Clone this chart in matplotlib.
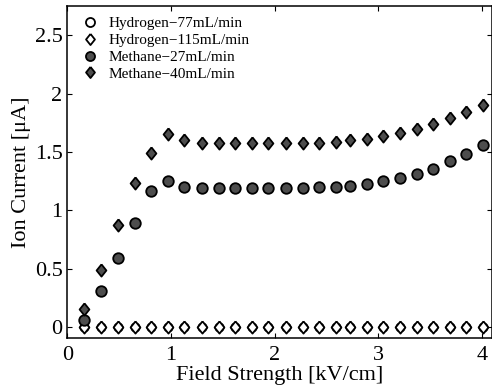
import matplotlib
matplotlib.use('Agg')
import matplotlib.pyplot as plt
import numpy as np

# field strength [kV/cm]
field = [0.16, 0.32, 0.49, 0.65, 0.81, 0.97, 1.13, 1.30, 1.46, 1.62, 1.78, 1.94,
         2.11, 2.27, 2.43, 2.59, 2.73, 2.89, 3.05, 3.21, 3.37, 3.53, 3.69, 3.85, 4.01]

# ion current [uA]
h2_77 = [0.0] * 25
h2_115 = [0.0] * 25
ch4_27 = [0.057, 0.308, 0.591, 0.889, 1.165, 1.254, 1.200, 1.186, 1.186, 1.186,
          1.186, 1.186, 1.186, 1.191, 1.195, 1.200, 1.208, 1.223, 1.249, 1.277,
          1.314, 1.357, 1.420, 1.486, 1.557]
ch4_40 = [0.155, 0.486, 0.871, 1.229, 1.494, 1.657, 1.600, 1.577, 1.572, 1.572,
          1.572, 1.572, 1.572, 1.572, 1.577, 1.585, 1.600, 1.614, 1.637, 1.666,
          1.700, 1.743, 1.791, 1.842, 1.900]

labels = ['Hydrogen\u221277mL/min', 'Hydrogen\u2212115mL/min',
          'Methane\u221227mL/min', 'Methane\u221240mL/min']

plt.rcParams['font.family'] = ['Liberation Serif', 'DejaVu Serif']

diamond = [(0, 1), (0.8, 0), (0, -1), (-0.8, 0), (0, 1)]

fig = plt.figure(figsize=(4.92, 3.92), dpi=100)
ax = fig.add_axes([0.137, 0.1365, 0.8634, 0.848])

ax.plot(field, h2_77, 'o', ms=6.0, mfc='white', mec='black', mew=1.3, label=labels[0])
ax.plot(field, h2_115, marker=diamond, ls='none', ms=8.8, mfc='white', mec='black', mew=1.3, label=labels[1])
ax.plot(field, ch4_27, 'o', ms=7.6, mfc='0.3', mec='black', mew=1.3, label=labels[2])
ax.plot(field, ch4_40, marker=diamond, ls='none', ms=8.8, mfc='0.3', mec='black', mew=1.3, label=labels[3])

ax.set_xlim(0, 4.1)
ax.set_ylim(-0.1, 2.75)
ax.set_xticks([0, 1, 2, 3, 4])
ax.set_yticks([0, 0.5, 1, 1.5, 2, 2.5])
ax.set_yticklabels(['0', '0.5', '1', '1.5', '2', '2.5'])
ax.tick_params(direction='in', length=3.5, width=0.8, top=True, right=True,
               labelsize=16)
ax.tick_params(axis='x', pad=5.5)
ax.tick_params(axis='y', pad=3.5)
for s in ax.spines.values():
    s.set_linewidth(1.1)

ax.set_xlabel('Field Strength [kV/cm]', fontsize=16, labelpad=0.5)
ax.set_ylabel('Ion Current [\u03bcA]', fontsize=16, labelpad=3)

leg = ax.legend(loc='upper left', frameon=False, fontsize=11, handletextpad=0.4,
                labelspacing=0.2, borderaxespad=0.3, handlelength=1.6,
                bbox_to_anchor=(0.0, 1.0))
for h, ms in zip(leg.legend_handles, [6.5, 8.0, 6.5, 8.0]):
    h.set_markersize(ms)

fig.savefig('out.png', dpi=100)
